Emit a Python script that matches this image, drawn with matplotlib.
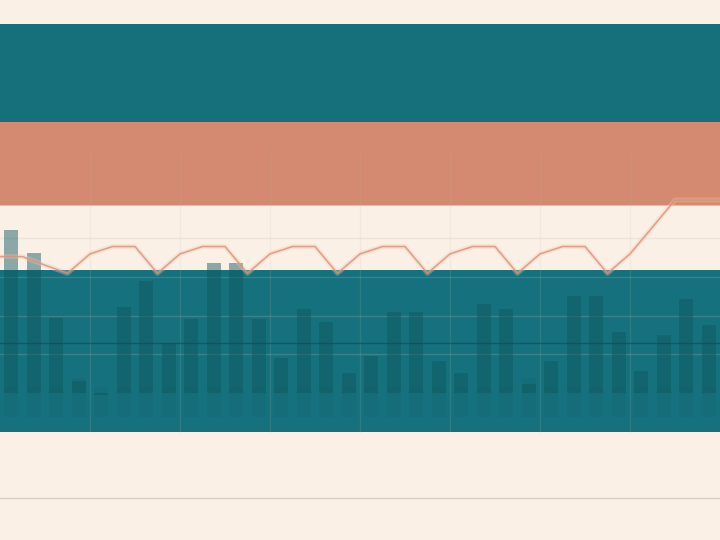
import numpy as np
import matplotlib.pyplot as plt
import matplotlib.patheffects as pe

# values (one unit = one grid step / 10)
bar_values = [42.1, 36.2, 19.4, 3.2, -0.5, 22.3, 29.0, 12.8, 19.0, 33.6, 33.6, 19.0,
              9.1, 21.7, 18.3, 5.1, 9.6, 20.9, 20.9, 8.3, 5.1, 23.0, 21.7, 2.3,
              8.3, 25.0, 25.0, 15.7, 5.7, 15.0, 24.3, 17.5]
base_floor = -6.2
base_tops = [1.5, 1.5, 1.5, 3.9, 1.5, 1.5, 1.5, 1.5, 1.5, 1.5, 1.5, 1.5,
             1.5, 1.5, 1.5, 1.5, 1.5, 1.5, 1.5, 1.5, 1.5, 1.5, 1.5, 3.9,
             1.5, 1.5, 1.5, 1.5, 1.5, 1.5, 1.5, 1.5]
line_values = [35.2, 35.2, 33.0, 30.9, 35.9, 37.8, 37.8, 30.9, 35.9, 37.8, 37.8,
               30.9, 35.9, 37.8, 37.8, 30.9, 35.9, 37.8, 37.8, 30.9, 35.9, 37.8,
               37.8, 30.9, 35.9, 37.8, 37.8, 30.9, 35.9, 42.8, 49.8, 49.8, 49.8]
ref_level = 12.9
floor_level = -27.1
zones = [(69.9, 95.2, "#15707c"), (48.5, 69.9, "#d38a70"), (-10.1, 31.7, "#15717d")]

CREAM = "#faf0e6"
BAR = "#0f565e"
LINE = "#dc9276"

fig = plt.figure(figsize=(7.2, 5.4), dpi=100)
fig.patch.set_facecolor(CREAM)
ax = fig.add_axes([0, 0, 1, 1])
ax.set_facecolor(CREAM)

for lo, hi, col in zones:
    ax.axhspan(lo, hi, color=col, lw=0, zorder=0)
# thin edge under the salmon zone
ax.axhline(zones[1][0], color="#b9a597", lw=0.8, alpha=0.6, zorder=1)

n = len(bar_values)
xb = np.arange(n) + 0.5
heights_b = np.array(base_tops) - base_floor
ax.bar(xb, heights_b, bottom=base_floor, width=0.62, color=BAR, alpha=0.13, lw=0, zorder=2)
ax.bar(xb, bar_values, width=0.62, color=BAR, alpha=0.47, lw=0, zorder=2)

# grid
ax.set_yticks([10, 20, 30, 40])
ax.set_xticks([4, 8, 12, 16, 20, 24, 28])
ax.grid(axis="y", color="#c8bcb0", alpha=0.22, lw=1, zorder=3)
for gx in ax.get_xticks():
    ax.axvline(gx, ymin=0.2, ymax=0.72, color="#c8bcb0", alpha=0.14, lw=1, zorder=3)

ax.axhline(ref_level, color="#0b4e57", lw=1, alpha=0.7, zorder=3)
ax.axhline(floor_level, color="#d9cfc5", lw=1, zorder=3)

xl = np.arange(len(line_values))
ax.plot(xl, line_values, color=LINE, lw=1.1, alpha=0.85, zorder=4,
        path_effects=[pe.Stroke(linewidth=3.5, foreground="#f1c6b4", alpha=0.35), pe.Normal()])

ax.set_xlim(0, n)
ax.set_ylim(-37.9, 101.4)
ax.tick_params(length=0, labelbottom=False, labelleft=False)
for s in ax.spines.values():
    s.set_visible(False)

fig.savefig("out.png", dpi=100, facecolor=CREAM)
